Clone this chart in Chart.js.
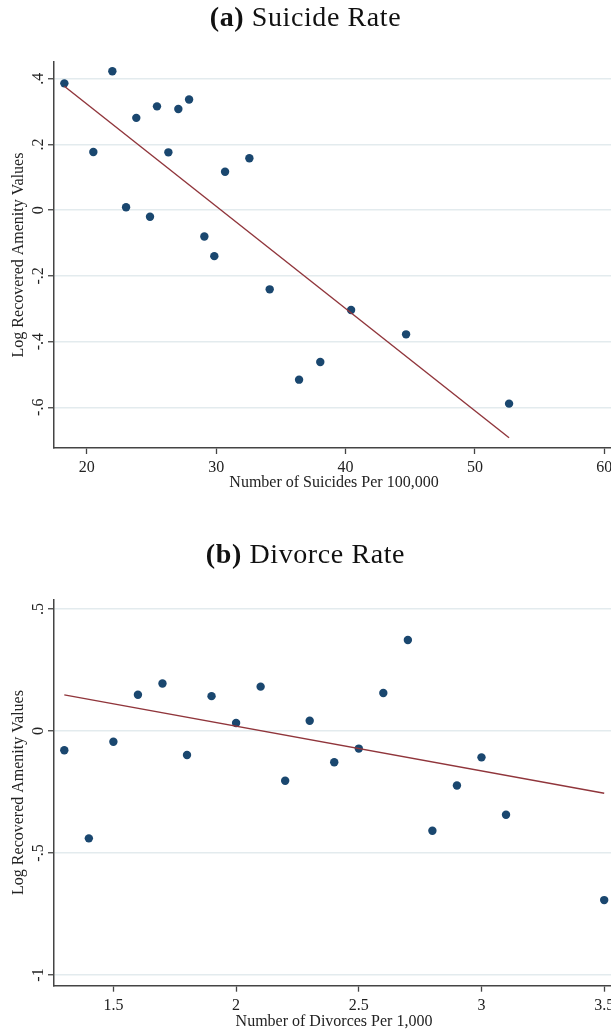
<!DOCTYPE html>
<html lang="en">
<head>
<meta charset="UTF-8" />
<title>Amenity values: suicide and divorce rates</title>
<script src="https://cdn.jsdelivr.net/npm/chart.js@4.4.0/dist/chart.umd.min.js"></script>
<style>
  html, body { margin:0; padding:0; overflow:hidden; background:#fff; width:611px; height:1034px; }
  canvas { position:absolute; left:0; }
  .ttl { position:absolute; left:0; width:611px; text-align:center; font-family:'Liberation Serif', serif;
         font-size:28px; line-height:28px; letter-spacing:0.6px; color:#111; z-index:2; }
</style>
</head>
<body>
<canvas id="chart" width="640" height="500" style="top:0;width:640px;height:500px"></canvas>
<canvas id="chart2" width="640" height="504" style="top:530px;width:640px;height:504px"></canvas>
<div class="ttl" style="top:3px"><b>(a)</b> Suicide Rate</div>
<div class="ttl" style="top:540px"><b>(b)</b> Divorce Rate</div>
<script>
// panel (a): suicides per 100,000 vs log amenity value
const suicideRate = [18.27, 20.51, 21.98, 23.83, 23.04, 25.43, 24.89, 26.31, 27.08, 27.91,
                     29.09, 29.86, 30.69, 32.57, 34.14, 36.41, 38.05, 40.43, 44.68, 52.64];
const suicideAmenity = [0.386, 0.177, 0.423, 0.281, 0.009, 0.316, -0.020, 0.176, 0.308, 0.337,
                        -0.080, -0.140, 0.117, 0.158, -0.241, -0.516, -0.462, -0.304, -0.378, -0.589];
const suicideFitX = [18.27, 52.64];
const suicideFitY = [0.377, -0.693];
const suicideXTicks = [20, 30, 40, 50, 60];
const suicideXLabels = ['20', '30', '40', '50', '60'];
const suicideYTicks = [-0.6, -0.4, -0.2, 0, 0.2, 0.4];
const suicideYLabels = ['-.6', '-.4', '-.2', '0', '.2', '.4'];

// panel (b): divorces per 1,000 vs log amenity value
const divorceRate = [1.3, 1.4, 1.5, 1.6, 1.7, 1.8, 1.9, 2.0, 2.1, 2.2,
                     2.3, 2.4, 2.5, 2.6, 2.7, 2.8, 2.9, 3.0, 3.1, 3.5];
const divorceAmenity = [-0.079, -0.440, -0.044, 0.149, 0.195, -0.098, 0.143, 0.033, 0.182, -0.204,
                        0.042, -0.128, -0.072, 0.156, 0.373, -0.409, -0.223, -0.108, -0.343, -0.693];
const divorceFitX = [1.3, 3.5];
const divorceFitY = [0.148, -0.255];
const divorceXTicks = [1.5, 2, 2.5, 3, 3.5];
const divorceXLabels = ['1.5', '2', '2.5', '3', '3.5'];
const divorceYTicks = [-1, -0.5, 0, 0.5];
const divorceYLabels = ['-1', '-.5', '0', '.5'];

const serif = 'Liberation Serif';
const axisColor = '#444';

// y tick labels in this style are rotated, Chart.js can't rotate vertical axis labels
const rotatedYLabels = {
  id: 'rotatedYLabels',
  afterDraw(chart, args, opts) {
    const ys = chart.scales.y;
    const ctx = chart.ctx;
    ctx.save();
    ctx.fillStyle = '#222';
    ctx.font = '16px "' + serif + '"';
    ctx.textAlign = 'center';
    ctx.textBaseline = 'middle';
    opts.values.forEach((v, i) => {
      const py = ys.getPixelForValue(v);
      ctx.save();
      ctx.translate(ys.right - 15, py);
      ctx.rotate(-Math.PI / 2);
      ctx.fillText(opts.labels[i], 0, 0);
      ctx.restore();
    });
    ctx.restore();
  }
};

function makeChart(id, cfg) {
  const pts = cfg.x.map((v, i) => ({x: v, y: cfg.y[i]}));
  const fit = cfg.fitX.map((v, i) => ({x: v, y: cfg.fitY[i]}));
  return new Chart(document.getElementById(id), {
    type: 'scatter',
    data: {
      datasets: [
        {
          type: 'line', data: fit, order: 0,
          borderColor: '#90353b', borderWidth: 1.4, pointRadius: 0, fill: false
        },
        {
          data: pts, order: 1,
          backgroundColor: '#1a476f', borderWidth: 0, pointRadius: 4.2
        }
      ]
    },
    options: {
      responsive: false,
      animation: false,
      devicePixelRatio: 1,
      layout: { padding: { top: cfg.padTop, right: 26, left: 0, bottom: 0 } },
      plugins: {
        legend: { display: false },
        tooltip: { enabled: false },
        rotatedYLabels: { values: cfg.yTicks, labels: cfg.yLabels }
      },
      scales: {
        x: {
          type: 'linear', min: cfg.xMin, max: cfg.xMax,
          afterBuildTicks: s => { s.ticks = cfg.xTicks.map(v => ({value: v})); },
          afterFit: s => { s.height = cfg.xAxisH; },
          border: { display: true, color: axisColor, width: 1.5 },
          grid: { drawOnChartArea: false, drawTicks: true, tickLength: 6, tickColor: axisColor, tickWidth: 1.3 },
          ticks: {
            color: '#222', padding: 4, maxRotation: 0,
            font: { family: serif, size: 16 },
            callback: v => cfg.xLabels[cfg.xTicks.indexOf(v)]
          },
          title: {
            display: true, text: cfg.xTitle, color: '#222',
            font: { family: serif, size: 16 },
            padding: { top: 0, bottom: cfg.xTitlePad }
          }
        },
        y: {
          type: 'linear', min: cfg.yMin, max: cfg.yMax,
          afterBuildTicks: s => { s.ticks = cfg.yTicks.map(v => ({value: v})); },
          afterFit: s => { s.width = 54; },
          border: { display: true, color: axisColor, width: 1.5 },
          grid: { color: '#e3ebee', lineWidth: 1.5, drawTicks: true, tickLength: 6, tickColor: axisColor, tickWidth: 1.3 },
          ticks: { display: false },
          title: {
            display: true, text: 'Log Recovered Amenity Values', color: '#222',
            font: { family: serif, size: 16 },
            padding: { top: 8.7, bottom: 0 }
          }
        }
      }
    },
    plugins: [rotatedYLabels]
  });
}

makeChart('chart', {
  x: suicideRate, y: suicideAmenity, fitX: suicideFitX, fitY: suicideFitY,
  xMin: 17.47, xMax: 60.75, yMin: -0.724, yMax: 0.451,
  xTicks: suicideXTicks, xLabels: suicideXLabels, yTicks: suicideYTicks, yLabels: suicideYLabels,
  xTitle: 'Number of Suicides Per 100,000', padTop: 62, xAxisH: 52, xTitlePad: 7.4
});

makeChart('chart2', {
  x: divorceRate, y: divorceAmenity, fitX: divorceFitX, fitY: divorceFitY,
  xMin: 1.258, xMax: 3.54, yMin: -1.044, yMax: 0.54,
  xTicks: divorceXTicks, xLabels: divorceXLabels, yTicks: divorceYTicks, yLabels: divorceYLabels,
  xTitle: 'Number of Divorces Per 1,000', padTop: 69.3, xAxisH: 48.3, xTitlePad: 2.2
});
</script>
</body>
</html>
